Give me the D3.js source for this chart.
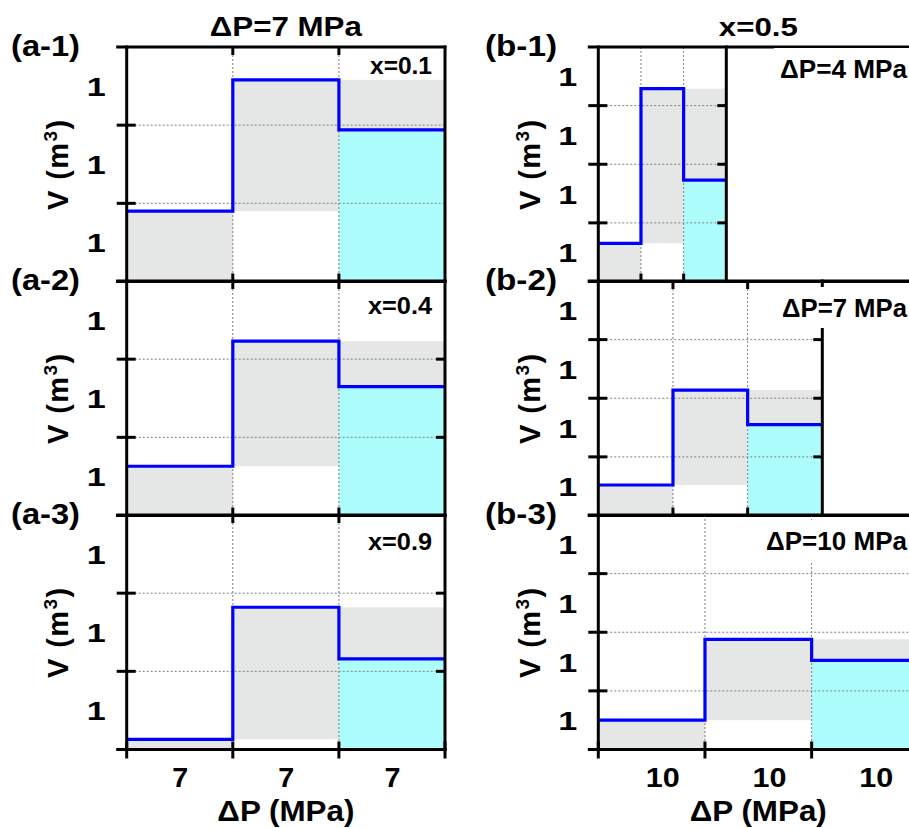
<html>
<head>
<script src="https://d3js.org/d3.v7.min.js"></script>
<style>
body { margin: 0; background: #fff; }
svg { font-family: "Liberation Sans", Arial, sans-serif; font-weight: bold; }
.grid { stroke: #7f7f7f; stroke-width: 1; stroke-dasharray: 2,2; }
.frame { stroke: #000; stroke-width: 3; stroke-linecap: square; }
.tk { stroke: #000; stroke-width: 3; }
.step { stroke: #0000ff; stroke-width: 3.2; fill: none; }
</style>
</head>
<body>
<div id="root"></div>
<script>
// step heights (in y units) of each panel
var a1 = [0.90, 2.58, 1.94];
var a2 = [0.63, 2.23, 1.65];
var a3 = [0.13, 1.82, 1.16];
var b1 = [0.65, 3.29, 1.73];
var b2 = [0.52, 2.14, 1.55];
var b3 = [0.50, 1.88, 1.52];
var panelData = [a1, a2, a3, b1, b2, b3];

var panelNames = ["(a-1)", "(a-2)", "(a-3)", "(b-1)", "(b-2)", "(b-3)"];
var cornerText = ["x=0.1", "x=0.4", "x=0.9", "ΔP=4 MPa", "ΔP=7 MPa", "ΔP=10 MPa"];
var stepDP = [7, 7, 7, 4, 7, 10];          // width of each step (MPa)
var colTitles = ["ΔP=7 MPa", "x=0.5"];

var xTickTextA = ["7", "7", "7"];
var xTickPosA = [3.5, 10.5, 17.5];
var xTickTextB = ["10", "10", "10"];
var xTickPosB = [6, 16, 26];
var yTickText = "1";

var gray = "#e5e6e6";
var cyan = "#adfdfd";

/* layout */
var rowTop = [47, 281, 515];
var rowH = 234.5;
var cols = [
  {x0: 126.7, x1: 445, dmax: 21, ny: 3, frameEnd: 445, ylab: 68, name: 11},
  {x0: 598.3, x1: 918.3, dmax: 30, ny: 4, frameEnd: 918.3, ylab: 540, name: 485}
];
var layout = [
  {col: 0, row: 0, topTicks: true,  rightTicks: false, box: false, labDy: 27, labW: 62},
  {col: 0, row: 1, topTicks: true,  rightTicks: true,  box: false, labDy: 33, labW: 64},
  {col: 0, row: 2, topTicks: true,  rightTicks: true,  box: false, labDy: 35, labW: 64},
  {col: 1, row: 0, topTicks: false, rightTicks: true,  box: true,  labDy: 31, labW: 127},
  {col: 1, row: 1, topTicks: true,  rightTicks: true,  box: true,  labDy: 36, labW: 125},
  {col: 1, row: 2, topTicks: false, rightTicks: true,  box: true,  labDy: 35, labW: 141}
];

var svg = d3.select("#root").append("svg")
  .attr("width", 909)
  .attr("height", 828);

layout.forEach(function(p, k) {
  var c = cols[p.col];
  var top = rowTop[p.row], bot = top + rowH;
  var x = d3.scaleLinear().domain([0, c.dmax]).range([c.x0, c.x1]);
  var y = d3.scaleLinear().domain([0, c.ny]).range([bot, top]);
  var v = panelData[k], dp = stepDP[k];
  var xEnd = x(3 * dp);
  var g = svg.append("g");

  /* gray / cyan blocks */
  var blocks = [
    {a: 0, b: dp, lo: 0, hi: v[0], fill: gray},
    {a: dp, b: 2 * dp, lo: Math.min(v[0], v[1]), hi: Math.max(v[0], v[1]), fill: gray},
    {a: 2 * dp, b: 3 * dp, lo: v[2], hi: v[1], fill: gray},
    {a: 2 * dp, b: 3 * dp, lo: 0, hi: v[2], fill: cyan}
  ];
  g.selectAll(".blk").data(blocks).enter().append("rect")
    .attr("x", d => x(d.a))
    .attr("width", d => x(d.b) - x(d.a))
    .attr("y", d => y(d.hi))
    .attr("height", d => y(d.lo) - y(d.hi))
    .attr("fill", d => d.fill);

  /* grid */
  g.selectAll(".hg").data(d3.range(1, c.ny)).enter().append("line")
    .attr("class", "grid")
    .attr("x1", x(0)).attr("x2", xEnd)
    .attr("y1", d => y(d)).attr("y2", d => y(d));
  g.selectAll(".vg").data([dp, 2 * dp]).enter().append("line")
    .attr("class", "grid")
    .attr("x1", d => x(d)).attr("x2", d => x(d))
    .attr("y1", top).attr("y2", bot);

  /* step line */
  var line = d3.line()
    .x(d => x(d[0]))
    .y(d => y(d[1]))
    .curve(d3.curveStepAfter);
  g.append("path")
    .attr("class", "step")
    .attr("d", line([[0, v[0]], [dp, v[1]], [2 * dp, v[2]], [3 * dp, v[2]]]));

  /* frame */
  [top, bot].forEach(function(yy) {
    g.append("line").attr("class", "frame")
      .attr("x1", x(0) - 9).attr("x2", c.frameEnd)
      .attr("y1", yy).attr("y2", yy);
  });
  [x(0), xEnd].forEach(function(xx) {
    g.append("line").attr("class", "frame")
      .attr("x1", xx).attr("x2", xx)
      .attr("y1", top).attr("y2", bot);
  });

  // y ticks, crossing on the left, inward on the right
  g.selectAll(".yt").data(d3.range(1, c.ny)).enter().append("line")
    .attr("class", "tk")
    .attr("x1", x(0) - 10).attr("x2", x(0) + 9)
    .attr("y1", d => y(d)).attr("y2", d => y(d));
  if (p.rightTicks) {
    g.selectAll(".yr").data(d3.range(1, c.ny)).enter().append("line")
      .attr("class", "tk")
      .attr("x1", xEnd - 9).attr("x2", xEnd)
      .attr("y1", d => y(d)).attr("y2", d => y(d));
  }

  // x ticks
  var last = p.row == 2;
  g.selectAll(".xb").data(last ? [0, dp, 2 * dp, 3 * dp] : [dp, 2 * dp]).enter().append("line")
    .attr("class", "tk")
    .attr("x1", d => x(d)).attr("x2", d => x(d))
    .attr("y1", bot - 8).attr("y2", last ? bot + 9 : bot);
  if (p.topTicks) {
    g.selectAll(".xt").data([dp, 2 * dp]).enter().append("line")
      .attr("class", "tk")
      .attr("x1", d => x(d)).attr("x2", d => x(d))
      .attr("y1", top).attr("y2", top + 8);
  }

  /* y tick labels */
  var yAxis = d3.axisLeft(y)
    .tickValues(d3.range(0.5, c.ny, 1))
    .tickSize(0)
    .tickPadding(21)
    .tickFormat(() => yTickText);
  g.append("g")
    .attr("transform", `translate(${x(0)},0)`)
    .call(yAxis)
    .attr("font-family", null)
    .attr("font-size", 25)
    .call(s => s.select(".domain").remove())
    .selectAll("text")
    .attr("dy", "0.38em")
    .attr("textLength", 19)
    .attr("lengthAdjust", "spacingAndGlyphs");

  /* x tick labels in the bottom row */
  if (last) {
    var txt = p.col == 0 ? xTickTextA : xTickTextB;
    var pos = p.col == 0 ? xTickPosA : xTickPosB;
    var xAxis = d3.axisBottom(x)
      .tickValues(pos)
      .tickSize(0)
      .tickPadding(18)
      .tickFormat((d, i) => txt[i]);
    g.append("g")
      .attr("transform", `translate(0,${bot})`)
      .call(xAxis)
      .attr("font-family", null)
      .attr("font-size", 27)
      .call(s => s.select(".domain").remove())
      .selectAll("text")
      .attr("textLength", p.col == 0 ? 16 : 34)
      .attr("lengthAdjust", "spacingAndGlyphs");
  }

  /* corner label */
  var lx = p.col == 0 ? 432 : 907;
  var ly = top + p.labDy;
  if (p.box) {
    g.append("rect")
      .attr("x", lx - p.labW - 6).attr("width", c.frameEnd - lx + p.labW + 6)
      .attr("y", ly - 30).attr("height", 41)
      .attr("fill", "#fff");
  }
  g.append("text")
    .attr("x", lx).attr("y", ly)
    .attr("text-anchor", "end")
    .attr("font-size", p.col == 0 ? 23 : 26)
    .attr("textLength", p.labW)
    .attr("lengthAdjust", "spacingAndGlyphs")
    .text(cornerText[k]);

  /* panel name */
  g.append("text")
    .attr("x", c.name).attr("y", top + 9)
    .attr("font-size", 30)
    .attr("textLength", p.col == 0 ? 69 : 72)
    .attr("lengthAdjust", "spacingAndGlyphs")
    .text(panelNames[k]);

  /* y axis title */
  var yt = g.append("text")
    .attr("transform", `translate(${c.ylab},${(top + bot) / 2}) rotate(-90)`)
    .attr("text-anchor", "middle")
    .attr("font-size", 29)
    .attr("letter-spacing", 1.4);
  yt.append("tspan").text("V (m");
  yt.append("tspan").attr("font-size", 19).attr("dy", -11).text("3");
  yt.append("tspan").attr("dy", 11).text(")");
});

/* column titles and x axis titles */
cols.forEach(function(c, i) {
  var cx = (c.x0 + c.x1) / 2;
  svg.append("text")
    .attr("x", cx).attr("y", 35.5)
    .attr("text-anchor", "middle")
    .attr("font-size", i == 0 ? 28 : 26)
    .attr("textLength", i == 0 ? 152 : 79)
    .attr("lengthAdjust", "spacingAndGlyphs")
    .text(colTitles[i]);
  svg.append("text")
    .attr("x", cx).attr("y", 820.5)
    .attr("text-anchor", "middle")
    .attr("font-size", 29)
    .attr("textLength", 137)
    .attr("lengthAdjust", "spacingAndGlyphs")
    .text("ΔP (MPa)");
});
</script>
</body>
</html>
